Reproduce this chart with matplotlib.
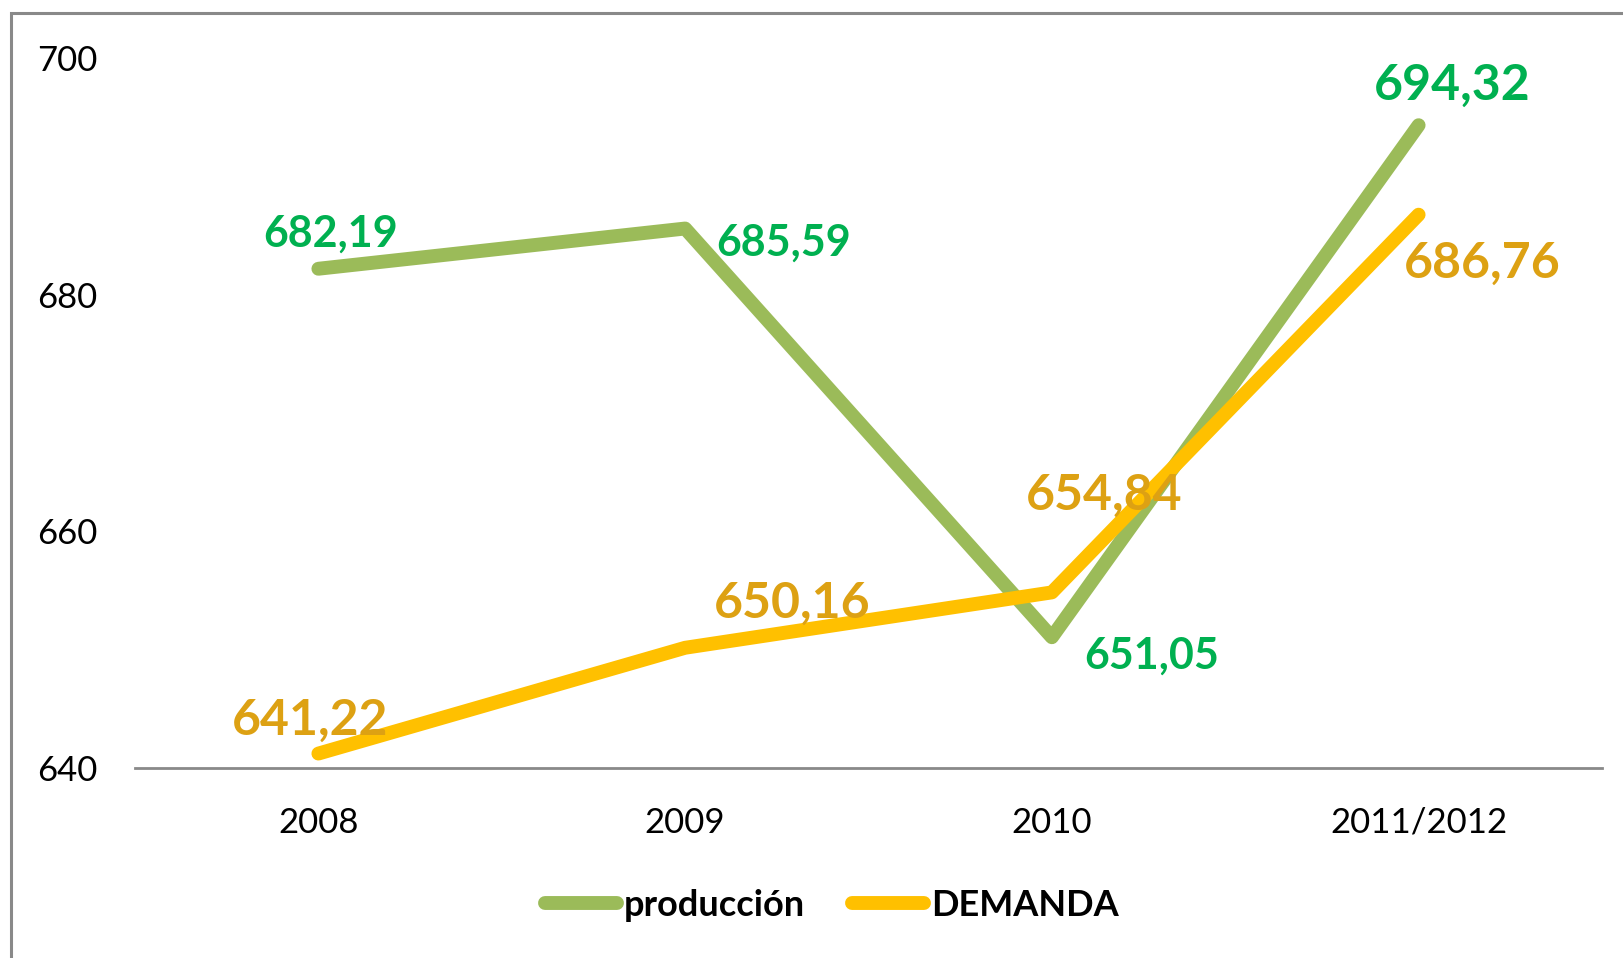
import matplotlib.pyplot as plt
from matplotlib.patches import Rectangle

plt.rcParams['font.family'] = ['Lato', 'DejaVu Sans']

years = ['2008', '2009', '2010', '2011/2012']
produccion = [682.19, 685.59, 651.05, 694.32]
demanda = [641.22, 650.16, 654.84, 686.76]
prod_labels = ['682,19', '685,59', '651,05', '694,32']
dem_labels = ['641,22', '650,16', '654,84', '686,76']

fig = plt.figure(figsize=(16.24, 9.58), dpi=100)
ax = fig.add_axes([135 / 1624, 1 - 768 / 958, 1467 / 1624, 710 / 958])

x = range(len(years))
ax.plot(x, produccion, color='#9BBB59', lw=10, solid_capstyle='round', label='producción')
ax.plot(x, demanda, color='#FFC000', lw=10, solid_capstyle='round', label='DEMANDA')

# data labels (offsets in points)
prod_off = [(9, 25), (71, -10), (72, -13), (24, 29)]
prod_size = [31, 31, 31, 36]
for i, (v, t) in enumerate(zip(produccion, prod_labels)):
    ax.annotate(t, (i, v), xytext=prod_off[i], textcoords='offset points',
                ha='center', va='center', color='#00B050', fontsize=prod_size[i],
                fontweight='bold')

dem_off = [(-6, 24), (77, 32), (38, 70), (46, -35)]
for i, (v, t) in enumerate(zip(demanda, dem_labels)):
    ax.annotate(t, (i, v), xytext=dem_off[i], textcoords='offset points',
                ha='center', va='center', color='#DDA113', fontsize=36,
                fontweight='bold')

ax.set_xlim(-0.5, 3.5)
ax.set_ylim(640, 700)
ax.set_yticks([640, 660, 680, 700])
ax.set_xticks(list(x))
ax.set_xticklabels(years)
ax.tick_params(axis='y', length=0, pad=27, labelsize=25)
ax.tick_params(axis='x', length=0, pad=28, labelsize=25)
for s in ['top', 'right', 'left']:
    ax.spines[s].set_visible(False)
ax.spines['bottom'].set_color('#898989')
ax.spines['bottom'].set_linewidth(2)

leg = fig.legend(loc='center', bbox_to_anchor=(832 / 1624, 1 - 905 / 958), ncol=2,
                 frameon=False, handlelength=2.0, handletextpad=0.2, columnspacing=1.3,
                 prop={'weight': 'bold', 'size': 26})

# outer chart frame
fig.patches.append(Rectangle((11 / 1624, -0.1), 1.2, 1 - 13 / 958 + 0.1,
                             transform=fig.transFigure, fill=False,
                             edgecolor='#898989', lw=2.2))

fig.savefig('out.png', dpi=100)
